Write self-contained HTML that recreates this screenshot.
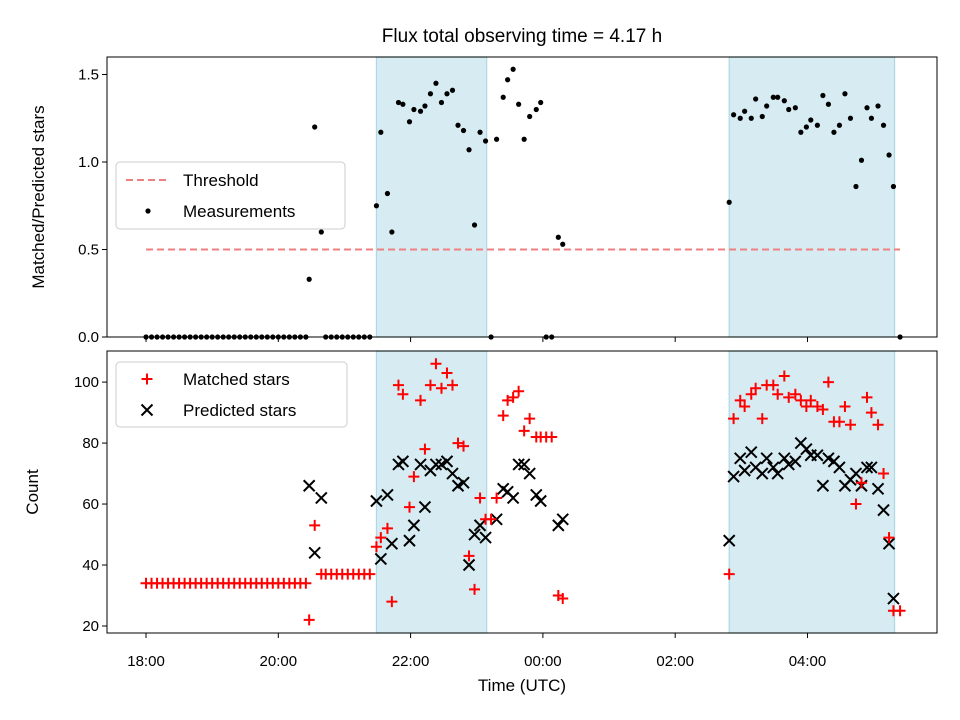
<!DOCTYPE html>
<html><head><meta charset="utf-8"><style>
body{margin:0;background:#fff}
svg{display:block;font-family:"Liberation Sans","DejaVu Sans",sans-serif}
</style></head><body>
<svg id="chart" width="960" height="720" viewBox="0 0 960 720" xmlns="http://www.w3.org/2000/svg">
<rect width="960" height="720" fill="#fff"/>
<g id="g"></g>
</svg>
<script>
// minutes since 18:00 UTC
const times=[0,5,10,15,20,25,30,35,40,45,50,55,60,65,70,75,80,85,90,95,100,105,110,115,120,125,130,135,140,145,
148,153,159,163,168,173,178,183,188,193,198,203,
209,213,219,223,229,233,239,243,249,253,258,263,268,273,278,283,288,293,298,303,308,313,318,324,328,333,338,343,348,354,358,363,368,374,378,
529,533,539,543,549,553,559,563,569,573,579,583,589,594,599,603,609,614,619,624,629,634,639,644,649,654,658,664,669,674,678,684];
const ratio=[0,0,0,0,0,0,0,0,0,0,0,0,0,0,0,0,0,0,0,0,0,0,0,0,0,0,0,0,0,0,
0.33,1.2,0.6,0,0,0,0,0,0,0,0,0,
0.75,1.17,0.82,0.6,1.34,1.33,1.23,1.30,1.29,1.32,1.39,1.45,1.34,1.39,1.41,1.21,1.18,1.07,0.64,1.17,1.12,0,1.13,1.37,1.47,1.53,1.33,1.13,1.26,1.30,1.34,0,0,0.57,0.53,
0.77,1.27,1.25,1.29,1.25,1.36,1.26,1.32,1.37,1.37,1.35,1.30,1.31,1.17,1.20,1.24,1.21,1.38,1.33,1.17,1.21,1.39,1.25,0.86,1.01,1.31,1.25,1.32,1.21,1.04,0.86,0];
const matched=[34,34,34,34,34,34,34,34,34,34,34,34,34,34,34,34,34,34,34,34,34,34,34,34,34,34,34,34,34,34,
22,53,37,37,37,37,37,37,37,37,37,37,
46,49,52,28,99,96,59,69,94,78,99,106,98,103,99,80,79,43,32,62,55,55,62,89,94,95,97,84,88,82,82,82,82,30,29,
37,88,94,92,96,98,88,99,99,96,102,95,96,94,92,94,92,91,100,87,87,92,86,60,67,95,90,86,70,49,25,25];
const predicted=[null,null,null,null,null,null,null,null,null,null,null,null,null,null,null,null,null,null,null,null,null,null,null,null,null,null,null,null,null,null,
66,44,62,null,null,null,null,null,null,null,null,null,
61,42,63,47,73,74,48,53,73,59,71,73,73,74,70,66,67,40,50,53,49,null,55,65,64,62,73,73,70,63,61,null,null,53,55,
48,69,75,71,77,72,70,75,72,70,75,73,74,80,78,76,76,66,75,74,72,66,68,70,66,72,72,65,58,47,29,null];
const xTicks=[0,120,240,360,480,600];
const xTickLabels=["18:00","20:00","22:00","00:00","02:00","04:00"];
const topTicks=[0,0.5,1.0,1.5];
const botTicks=[20,40,60,80,100];
const threshold=0.5;
const spans=[[209,309],[529,679]];

const NS="http://www.w3.org/2000/svg";
const g=document.getElementById('g');
function el(t,a,p){const e=document.createElementNS(NS,t);for(const k in a)e.setAttribute(k,a[k]);(p||g).appendChild(e);return e;}
const L=107,R=937;
const xs=m=>L+(m+35.4)*(R-L)/(717.5+35.4);
const T={t:57,b:337,min:0,max:1.6};
const B={t:351,b:633,min:17.7,max:110.2};
const ys=(ax,v)=>ax.b-(v-ax.min)*(ax.b-ax.t)/(ax.max-ax.min);

let t=el('text',{x:522,y:42,'text-anchor':'middle','font-size':19,fill:'#000'});t.textContent='Flux total observing time = 4.17 h';



[T,B].forEach((ax,i)=>{
  const pg=el('g',{});
  
  
  spans.forEach(s=>{
    const r=el('rect',{x:xs(s[0]),y:ax.t,width:xs(s[1])-xs(s[0]),height:ax.b-ax.t,fill:'#add8e6','fill-opacity':0.5,stroke:'#add8e6','stroke-width':1.2},pg);
    
    
  });
  xTicks.forEach((m,k)=>{
    el('line',{x1:xs(m),x2:xs(m),y1:ax.b,y2:ax.b+5,stroke:'#000','stroke-width':1},pg);
    if(i){const tx=el('text',{x:xs(m),y:ax.b+33,'text-anchor':'middle','font-size':15},pg);tx.textContent=xTickLabels[k];
      
      }
  });
  (i?botTicks:topTicks).forEach(v=>{
    el('line',{x1:L-5,x2:L,y1:ys(ax,v),y2:ys(ax,v),stroke:'#000','stroke-width':1},pg);
    const tx=el('text',{x:L-8,y:ys(ax,v)+5,'text-anchor':'end','font-size':15},pg);tx.textContent=i?String(v):v.toFixed(1);
    
    
  });
});

const th=el('line',{x1:xs(0),x2:xs(684),y1:ys(T,threshold),y2:ys(T,threshold),stroke:'#f08080','stroke-width':2,'stroke-dasharray':'7,4'});



times.forEach((m,i)=>{
  const c=el('circle',{cx:xs(m),cy:ys(T,ratio[i]),r:2.6,fill:'#000'});
  
  
});
times.forEach((m,i)=>{
  if(predicted[i]==null)return;
  const x=xs(m),y=ys(B,predicted[i]),d=5.5;
  const p=el('path',{d:`M${x-d},${y-d}L${x+d},${y+d}M${x-d},${y+d}L${x+d},${y-d}`,stroke:'#000','stroke-width':2});
  
  
});
times.forEach((m,i)=>{
  if(matched[i]==null)return;
  const x=xs(m),y=ys(B,matched[i]),d=5.5;
  const p=el('path',{d:`M${x-d},${y}L${x+d},${y}M${x},${y-d}L${x},${y+d}`,stroke:'#f00','stroke-width':2});
  
  
});

[T,B].forEach(ax=>{
  const f=el('rect',{x:L,y:ax.t,width:R-L,height:ax.b-ax.t,fill:'none',stroke:'#000','stroke-width':1});
  
  
});

const lg1=el('g',{});


el('rect',{x:116,y:162,width:229,height:67,rx:4,fill:'#fff','fill-opacity':0.8,stroke:'#ccc'},lg1);
el('line',{x1:126,x2:170,y1:180,y2:180,stroke:'#f08080','stroke-width':2,'stroke-dasharray':'7,4'},lg1);
let tt=el('text',{x:183,y:186,'font-size':17},lg1);tt.textContent='Threshold';
el('circle',{cx:148,cy:211,r:2.6,fill:'#000'},lg1);
tt=el('text',{x:183,y:217,'font-size':17},lg1);tt.textContent='Measurements';

const lg2=el('g',{});


el('rect',{x:116,y:362,width:231,height:65,rx:4,fill:'#fff','fill-opacity':0.8,stroke:'#ccc'},lg2);
el('path',{d:'M141.5,379L152.5,379M147,373.5L147,384.5',stroke:'#f00','stroke-width':2},lg2);
tt=el('text',{x:183,y:385,'font-size':17},lg2);tt.textContent='Matched stars';
el('path',{d:'M141.5,404.5L152.5,415.5M141.5,415.5L152.5,404.5',stroke:'#000','stroke-width':2},lg2);
tt=el('text',{x:183,y:416,'font-size':17},lg2);tt.textContent='Predicted stars';

tt=el('text',{x:0,y:0,'font-size':17,'text-anchor':'middle',transform:'translate(44,197) rotate(-90)'});tt.textContent='Matched/Predicted stars';


tt=el('text',{x:0,y:0,'font-size':17,'text-anchor':'middle',transform:'translate(38,492) rotate(-90)'});tt.textContent='Count';


tt=el('text',{x:522,y:691,'font-size':17,'text-anchor':'middle'});tt.textContent='Time (UTC)';


</script>
</body></html>
